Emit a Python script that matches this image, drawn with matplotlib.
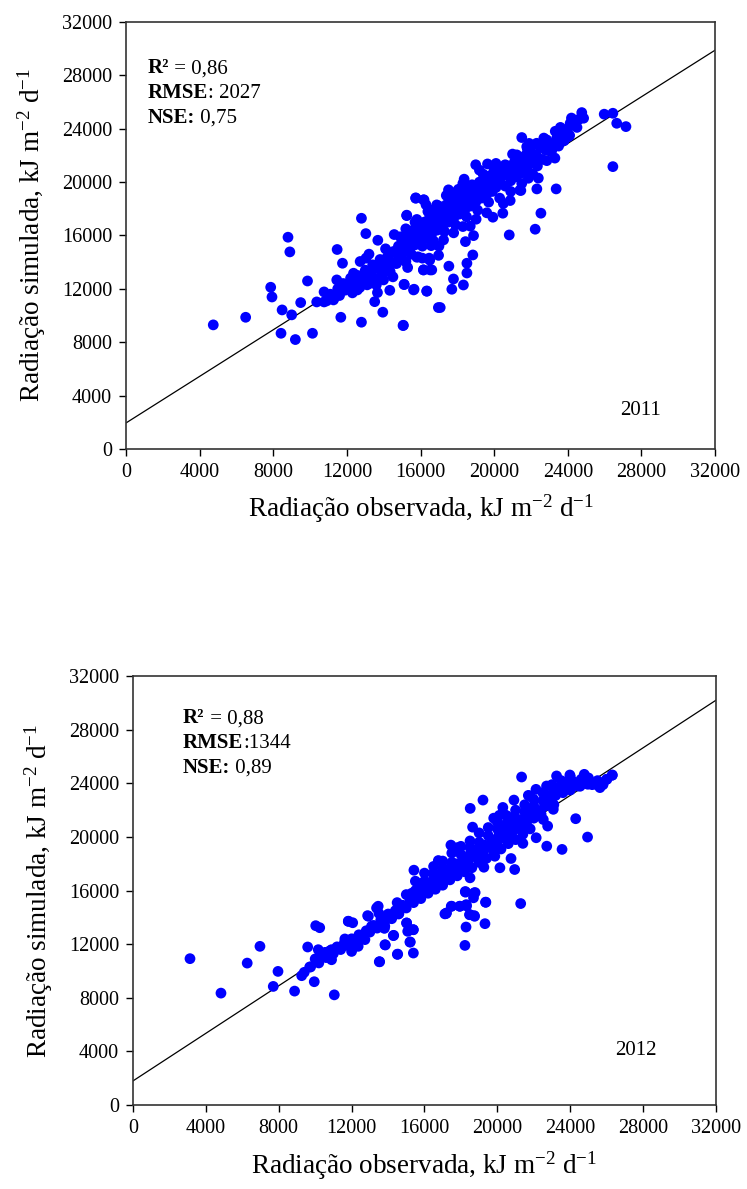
import numpy as np
import matplotlib
matplotlib.use("Agg")
import matplotlib.pyplot as plt

plt.rcParams['font.family'] = ['Liberation Serif', 'DejaVu Serif']
plt.rcParams['mathtext.fontset'] = 'custom'
plt.rcParams['mathtext.rm'] = 'Liberation Serif'
plt.rcParams['mathtext.it'] = 'Liberation Serif:italic'
plt.rcParams['mathtext.bf'] = 'Liberation Serif:bold'

# ---- 2011: observed (x) vs simulated (y), kJ m-2 d-1 ----
obs_2011 = [
    4740, 6500, 7860, 7930, 8800, 8900, 8480, 9000, 8420, 9200, 10130, 9490, 9860, 10360,
    10760, 10760, 11270, 11470, 11670, 11760, 11450, 11650, 12000, 12360, 12570, 12790,
    12790, 13030, 12720, 13040, 13260, 13620, 13680, 13660, 13510, 13950, 13990, 14350,
    14330, 14570, 14530, 14630, 15050, 15110, 15200, 15250, 15740, 16160, 15620, 16340,
    16970, 16160, 16520, 15980, 16500, 15870,
    24760, 24860, 24310, 24130, 25980, 26450, 26660, 27160, 26450, 21500, 23320, 23760,
    24040, 22860, 22310, 23130, 21770, 22860, 22350, 21230, 19640, 21860, 22320, 23370,
    21450, 22540, 22230, 20820, 20470, 19930, 20870, 18370, 17520, 18060, 15740, 16190,
    15250, 16880, 18300, 19020, 18880, 18440, 18840, 18520, 18520, 17790, 17700, 18330,
    17540, 17070, 16980, 16470, 16160, 16610, 16340, 15650, 15110, 15070, 15200, 15800,
    17250, 16580,
    10900, 11100, 11300, 11500, 11600, 11800, 11900, 12100, 12200, 12300, 12500, 12600,
    12700, 12900, 13000, 13100, 13300, 13400, 13500, 13700, 13800, 13900, 14000, 14200,
    14300, 14400, 14600, 14700, 14800, 14900, 15000, 15100, 15200, 15300, 15400, 15500,
    15600, 15700, 15800, 15900, 16000, 16100, 16200, 16300, 16400, 16500, 16600, 16700,
    16800, 16900, 17000, 17100, 17200, 17300, 17400, 17500, 17600, 17700, 17800, 17900,
    18000, 18100, 18200, 18300, 18400, 18500, 18600, 18700, 18800, 18900, 19000, 19100,
    19200, 19300, 19400, 19500, 19600, 19700, 19800, 19900, 20000, 20100, 20200, 20300,
    20400, 20500, 20600, 20700, 20800, 20900, 21000, 21100, 21200, 21300, 21400, 21500,
    21600, 21700, 21800, 21900, 22000, 22200, 22300, 22500, 22600, 22800, 22900, 23100,
    23200, 23400, 23500, 23700, 23800, 24000, 24100, 24300, 24500, 24600,
    15200, 15500, 15800, 16100, 16400, 16700, 17000, 17300, 17600, 17900, 18200, 18500,
    18800, 19100, 19400, 19700, 20000, 20300, 20600, 20900, 21200, 21500, 21800, 22100,
    19000, 17800, 16300,
    13200, 13600, 14100, 14500, 14900, 15300, 15700, 16100, 16600, 17000, 17400, 17800,
    18300, 18700, 19200, 19600, 20100, 20500, 21000, 21400, 21900, 22400, 22700, 23300,
    24200, 23600, 20200, 19200, 18300, 17400, 16600, 15800, 15000, 14200, 21000, 22000,
    23000,
]
sim_2011 = [
    9300, 9870, 12120, 11390, 15870, 14770, 10420, 10050, 8670, 8200, 8670, 10970, 12590, 11020,
    11770, 11020, 11170, 14950, 9870, 13920, 12670, 11900, 12170, 13170, 11920, 17290,
    9500, 16140, 14050, 14300, 12420, 13790, 15640, 11720, 11040, 10250, 12670, 13290,
    11890, 16070, 14800, 13920, 9250, 12320, 14050, 17520, 18820, 18670, 11920, 11820,
    10600, 13420, 13420, 16190, 14150, 14400,
    25210, 24790, 24660, 24410, 25090, 25160, 24410, 24160, 21160, 23340, 23810, 23810,
    23410, 23160, 22910, 22410, 22660, 21610, 21210, 22040, 21360, 20290, 19490, 19490,
    19370, 17670, 16470, 16040, 17670, 17370, 18620, 20220, 19420, 19460, 18790, 18670,
    17490, 18290, 16670, 17220, 15990, 15540, 14540, 13920, 13190, 12740, 11970, 12290,
    13700, 10600, 14510, 14300, 13420, 13420, 11840, 11970, 12340, 9270, 14050, 14370,
    15670, 15240,
    11100, 11600, 11300, 12000, 11500, 12400, 11900, 12200, 12800, 11700, 12500, 13000,
    12100, 12700, 13400, 12300, 13100, 13800, 12800, 13500, 14200, 13000, 13700, 14400,
    13300, 14000, 14700, 13900, 15200, 14500, 15600, 14800, 15300, 16000, 15000, 15700,
    16400, 15300, 16000, 16700, 15600, 16300, 17000, 15800, 16600, 17400, 16100, 16900,
    17700, 16400, 17200, 18000, 16700, 17500, 18300, 17000, 17800, 18500, 17300, 18100,
    18800, 17600, 18400, 19100, 17900, 18700, 19400, 18200, 19000, 19700, 18500, 19300,
    20000, 18800, 19600, 20300, 19100, 19900, 20500, 19300, 20100, 19600, 20700, 19900,
    20400, 21000, 19700, 20600, 21200, 20100, 20800, 21500, 20400, 21100, 21800, 20700,
    21400, 22000, 21000, 21700, 22300, 21400, 22000, 22600, 21700, 22400, 23000, 22300,
    22800, 23300, 22700, 23600, 23100, 24000, 23500, 24300, 24100, 24700,
    16500, 14600, 17200, 15200, 17800, 15600, 18200, 16300, 18900, 16800, 19500, 17400,
    19800, 17900, 20600, 18500, 20900, 18800, 21300, 19300, 21900, 19900, 22500, 20600,
    21300, 19200, 18300,
    14600, 12300, 15000, 12900, 15900, 13600, 17000, 14300, 17900, 15200, 19000, 16200,
    19900, 16700, 20900, 17700, 21400, 18400, 22100, 19400, 22900, 20300, 23300, 21800,
    24800, 24100, 20300, 19200, 18200, 17600, 16800, 15800, 15000, 14200, 21000, 21900,
    22600,
]

# ---- 2012 ----
obs_2012 = [
    3130, 4830, 6270, 6970, 7960, 7700, 8870, 9260, 9400, 9750, 9950, 9590, 10030, 10250,
    11050, 10170, 10540, 10900, 10900, 11180, 11630, 11820, 12060, 12000, 12360, 12730,
    12920, 13090, 13460, 13520, 13820, 13830, 14010, 14310, 14530, 14580, 15020, 15200,
    15390, 15390, 15080, 17120,
    18220, 19320, 18280, 19350, 17180, 18730, 18500, 17950, 18310, 17490, 18730, 18250,
    15220, 14510, 13850, 13540, 14290, 13800, 13370, 12880, 11820,
    21330, 23250, 23980, 24770, 26310, 26010, 25630, 25450, 24960, 24540, 24300, 24950,
    23550, 22710, 22760, 23070, 22120, 22520, 21790, 20910, 19210, 18510, 20110, 20690,
    21790, 22520, 18640, 20140, 21400, 22130, 20750, 20140, 20950, 19260, 19860, 17450,
    16760, 15420, 18500, 18240, 18780, 18690, 19370, 21280, 17210, 17470, 17930, 18290,
    18470, 18750, 15380, 15020,
    9700, 10000, 10200, 10400, 10600, 10800, 11000, 11200, 11400, 11600, 11800, 12000,
    12200, 12400, 12600, 12800, 13000, 13200, 13400, 13600, 13800, 14000, 14200, 14400,
    14600, 14800, 15000, 15200, 15300, 15400, 15600, 15700, 15800, 16000, 16100, 16200,
    16400, 16500, 16600, 16800, 16900, 17000, 17200, 17300, 17400, 17600, 17700, 17800,
    18000, 18100, 18200, 18400, 18500, 18600, 18800, 18900, 19000, 19200, 19300, 19400,
    19600, 19700, 19800, 20000, 20100, 20200, 20400, 20500, 20600, 20800, 20900, 21000,
    21200, 21300, 21400, 21600, 21700, 21800, 22000, 22200, 22400, 22600, 22800, 23000,
    23200, 23400, 23600, 23800, 24000, 24200, 24400, 24600, 24800, 25000, 25200, 25500,
    25800, 26000, 26300,
    17000, 17500, 18000, 18500, 19000, 19500, 20000, 20500, 21000, 21500, 22000, 22500,
    23000, 23500, 24000, 16500, 16000, 15500, 14500, 13500, 19800, 20300, 21700,
    15000, 15500, 16000, 16500, 17000, 17500, 18000, 18500, 19000, 19500, 20000, 20500,
    21000, 21500, 22000, 22500, 23000, 23500, 24000, 18300, 19100, 19900, 20700, 21500,
    22300, 23100, 17800, 20300, 22700,
]
sim_2012 = [
    10920, 8350, 10590, 11840, 9970, 8850, 8500, 9650, 9900, 10300, 9200, 11790, 13380, 13230,
    8220, 11590, 11390, 10840, 11590, 11710, 12390, 13710, 13600, 11460, 11840, 12340,
    14080, 13330, 14830, 10690, 13340, 11960, 14250, 12660, 11260, 14250, 13580, 12160,
    13080, 11340, 12960, 14260,
    11910, 13530, 13280, 15130, 14280, 14130, 14200, 14830, 14850, 14830, 15830, 15880,
    12160, 11240, 11940, 10690, 12640, 13180, 14700, 14130, 13710,
    24470, 24550, 24620, 24670, 24620, 24300, 23680, 23900, 23930, 23780, 21360, 19990,
    19070, 19310, 20810, 22060, 23550, 23300, 23050, 22750, 22750, 22130, 21610, 21430,
    21930, 21300, 20730, 20550, 19520, 19940, 18390, 17700, 17570, 17740, 18560, 19390,
    18240, 17520, 16950, 15930, 15850, 15460, 15130, 15030, 14330, 14830, 14830, 14950,
    14200, 14080, 13080, 13580,
    10300, 10900, 10600, 11200, 11000, 11500, 11300, 11800, 11600, 12100, 11900, 12400,
    12200, 12700, 12500, 13000, 12900, 13400, 13200, 13800, 13600, 14200, 13900, 14500,
    14300, 14900, 14700, 15300, 15800, 15100, 15700, 16200, 15400, 16100, 16600, 15800,
    16400, 16900, 16100, 16700, 17200, 16400, 17000, 17600, 16800, 17400, 18000, 17100,
    17800, 18400, 17400, 18100, 18700, 17700, 18500, 19100, 18100, 18800, 19400, 18400,
    19200, 19800, 18800, 19500, 20200, 19100, 19900, 20600, 19500, 20300, 20900, 19800,
    20600, 21300, 20200, 21000, 21700, 20600, 21400, 22000, 21700, 22300, 22800, 22500,
    23100, 23600, 23300, 23800, 23500, 24100, 23800, 24300, 24000, 24400, 23900, 24200,
    23900, 24300, 24600,
    18200, 18800, 19300, 19700, 20300, 20700, 21100, 21600, 22000, 22400, 22800, 23300,
    23900, 24200, 24500, 17800, 17300, 16700, 15100, 14300, 21400, 22200, 23100,
    15700, 16000, 16700, 17300, 17600, 18100, 18700, 19200, 19600, 20100, 20600, 21000,
    21400, 21900, 22300, 22700, 23200, 23700, 24000, 17900, 18600, 19300, 20000, 20800,
    21600, 22400, 19200, 21800, 23800,
]

# fitted lines (intercept, slope)
fit_2011 = (1950, 0.873)
fit_2012 = (1800, 0.8875)

stats_2011 = ["0,86", "2027", "0,75"]
stats_2012 = ["0,88", "1344", "0,89"]

ticks = np.arange(0, 32001, 4000)


def draw_panel(ax, obs, sim, fit, stats, year, sep, text_xy, year_xy):
    ax.scatter(obs, sim, s=60, color='#0000ff', edgecolors='none', zorder=3)
    xl = np.array([0, 32000])
    ax.plot(xl, fit[0] + fit[1] * xl, color='black', lw=0.9, zorder=2)
    ax.set_xlim(0, 32000)
    ax.set_ylim(0, 32000)
    ax.set_xticks(ticks)
    ax.set_yticks(ticks)
    ax.tick_params(direction='out', length=5, width=1, labelsize=14.5,
                   top=False, right=False, pad=5)
    for s in ax.spines.values():
        s.set_linewidth(1.2)
        s.set_color('#333333')
    ax.set_xlabel('Radiação observada, kJ m$^{-2}$ d$^{-1}$', fontsize=19.5, labelpad=8)
    ax.set_ylabel('Radiação simulada, kJ m$^{-2}$ d$^{-1}$', fontsize=19.5, labelpad=10)

    tx, ty = text_xy
    labels = ["R²", "RMSE", "NSE:"]
    rest = [" = " + stats[0], sep + stats[1], " " + stats[2]]
    for i in range(3):
        t = ax.text(tx, ty - i * 0.058, labels[i], transform=ax.transAxes,
                    fontsize=15, fontweight='bold', va='center', ha='left')
        ax.annotate(rest[i], xy=(1, 0), xycoords=t, va='bottom', ha='left',
                    fontsize=15)
    ax.text(year_xy[0], year_xy[1], year, transform=ax.transAxes,
            fontsize=15, ha='center', va='center')


fig = plt.figure(figsize=(7.47, 11.89), dpi=100)
ax1 = fig.add_axes([0.1687, 0.6224, 0.7885, 0.3591])
ax2 = fig.add_axes([0.178, 0.0706, 0.7805, 0.3608])

draw_panel(ax1, obs_2011, sim_2011, fit_2011, stats_2011, "2011", ": ",
           (0.037, 0.892), (0.873, 0.089))
draw_panel(ax2, obs_2012, sim_2012, fit_2012, stats_2012, "2012", ":",
           (0.086, 0.902), (0.863, 0.128))

fig.savefig("out.png", dpi=100)
